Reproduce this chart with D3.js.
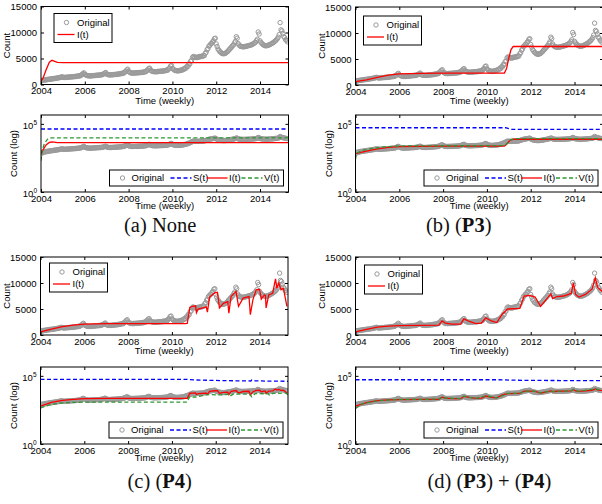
<!DOCTYPE html>
<meta charset="utf-8">
<head>
<script src="https://d3js.org/d3.v7.min.js"></script>
<style>
  body { margin: 0; background: #fff; }
  svg text { font-family: "Liberation Sans", Arial, sans-serif; }
</style>
</head>
<body>
<div id="my_dataviz"></div>
<script>

// ---------------- data ----------------
var yearTicks = [2004, 2006, 2008, 2010, 2012, 2014];
var countTicks = [0, 5000, 10000, 15000];
var logTicks = [1, 100000];
var timeDomain = [2004, 2015.3];
var countDomain = [0, 15000];
var logDomain = [1, Math.pow(10, 5.65)];

var origStart = 2004;
var original = [
  620, 780, 850, 800, 900, 870, 960, 930, 1010, 980, 1060, 1030, 1110, 1080, 1160, 1130, 1220, 1190, 1270, 1250, 1350, 1330, 1430, 1480,
  1400, 1350, 1380, 1340, 1420, 1380, 1440, 1400, 1480, 1440, 1500, 1460, 1540, 1500, 1580, 1550, 1640, 1600, 1700, 1660, 1820, 1900, 2100, 2250,
  1950, 1850, 1750, 1700, 1680, 1640, 1670, 1630, 1710, 1680, 1740, 1700, 1780, 1740, 1810, 1770, 1840, 1800, 1900, 1860, 2000, 2050, 2200, 2300,
  2000, 1920, 1880, 1840, 1870, 1830, 1900, 1860, 1940, 1900, 1970, 1930, 2020, 1980, 2080, 2040, 2140, 2100, 2240, 2200, 2450, 2550, 2800, 2950,
  2500, 2380, 2260, 2200, 2220, 2180, 2230, 2190, 2260, 2220, 2280, 2240, 2320, 2280, 2340, 2300, 2400, 2360, 2500, 2460, 2700, 2800, 3050, 3150,
  2750, 2620, 2540, 2480, 2480, 2440, 2480, 2440, 2520, 2480, 2560, 2520, 2580, 2540, 2640, 2600, 2700, 2660, 2800, 2760, 3050, 3150, 3550, 3650,
  3100, 2950, 2780, 2700, 2660, 2620, 2660, 2620, 2720, 2680, 2820, 2780, 2980, 2940, 3180, 3140, 3520, 3480, 3980, 3920, 4500, 4600, 5200, 5400,
  5300, 5200, 5250, 5150, 5300, 5250, 5400, 5350, 5450, 5400, 5600, 5550, 6000, 6200, 6700, 6900, 7400, 7500, 7800, 7900, 8200, 8400, 8800, 8900,
  7800, 7300, 6800, 6600, 6300, 6200, 6000, 5950, 5900, 5950, 6000, 6100, 6300, 6400, 6700, 6800, 7100, 7200, 7500, 7600, 8000, 8300, 9200, 8900,
  7900, 7600, 7400, 7350, 7300, 7250, 7250, 7300, 7300, 7350, 7400, 7450, 7500, 7550, 7600, 7650, 7800, 7850, 8000, 8100, 8400, 8700, 10100, 9700,
  8400, 8100, 7900, 7700, 7600, 7500, 7450, 7450, 7500, 7550, 7600, 7700, 7800, 7900, 8000, 8100, 8300, 8400, 8600, 8800, 9100, 9600, 11900, 10500,
  10300, 9800, 9200, 9000, 8600, 8500, 8200
];

// fitted curves, [year, value]
// (a) None
var noneI = [[2004,600],[2004.1,1300],[2004.23,2800],[2004.38,4300],[2004.5,4650],[2004.6,4500],[2004.75,4250],[2005,4200],[2015.3,4200]];
var noneS = [[2004,42000],[2015.3,42000]];
var noneV = [[2004,200],[2004.05,1000],[2004.15,3500],[2004.3,7500],[2004.45,9300],[2004.6,9500],[2015.3,9500]];

// (b) P3
var p3I = [[2004,650],[2004.5,1000],[2005,1450],[2005.5,1900],[2006,2150],[2007,2250],[2008,2300],[2010.8,2300],[2010.9,3200],[2011.0,5200],[2011.1,6800],[2011.2,7400],[2015.3,7400]];
var p3S = [[2004,52000],[2010.85,52000],[2011.1,40000],[2015.3,40000]];
var p3V = [[2004,250],[2004.05,700],[2004.3,1100],[2004.7,1500],[2005.2,1950],[2005.7,2250],[2006.5,2450],[2010.8,2500],[2010.95,4000],[2011.1,7000],[2011.3,8200],[2015.3,8300]];

// (c) P4
var p4I = [[2004,600],[2004.5,1150],[2005,1600],[2005.5,1900],[2006,2100],[2007,2200],[2010.6,2200],[2010.7,2250],[2010.82,5300],[2010.95,5500],[2011.08,5600],[2011.12,4300],[2011.2,5000],[2011.5,5300],[2011.57,5400],[2011.62,4400],[2011.72,7300],[2011.95,8100],[2012.08,8200],[2012.17,5200],[2012.35,6100],[2012.55,6400],[2012.6,4200],[2012.7,7400],[2012.93,8400],[2013.04,5500],[2013.25,7100],[2013.52,7400],[2013.58,3900],[2013.7,6800],[2013.85,8700],[2014.0,8800],[2014.08,6900],[2014.22,7700],[2014.27,7600],[2014.3,5200],[2014.42,7700],[2014.6,8000],[2014.73,10800],[2014.79,9000],[2014.88,10000],[2014.98,8700],[2015.09,9000],[2015.25,5500]];
var p4S = [[2004,55000],[2010.7,55000],[2011,50000],[2012,46000],[2013,43000],[2013.6,42000],[2013.65,50000],[2013.8,43000],[2014.5,41000],[2015.3,40000]];
var p4V = [[2004,450],[2004.5,800],[2005,1050],[2006,1200],[2010.7,1200],[2010.8,2800],[2011.1,2800],[2011.4,3600],[2011.7,4200],[2012.2,4000],[2012.6,4400],[2012.65,3300],[2012.8,4600],[2013.55,4600],[2013.65,2900],[2013.8,5000],[2014.4,4800],[2014.45,3800],[2014.6,5200],[2015.2,5400],[2015.3,4200]];

// (d) P3 + P4
var bothI = [[2004,600],[2004.5,1100],[2005,1500],[2005.5,1700],[2006,1800],[2007,1850],[2007.8,1900],[2007.95,2700],[2008.1,2300],[2008.4,2100],[2008.8,2100],[2008.95,3100],[2009.2,2600],[2009.5,2200],[2009.75,2300],[2009.95,3300],[2010.2,2700],[2010.45,2400],[2010.7,4000],[2010.95,5000],[2011.5,5100],[2011.7,7500],[2011.95,7600],[2012.2,7300],[2012.45,5500],[2012.7,6800],[2012.92,7900],[2013.0,7000],[2013.2,7400],[2013.5,7500],[2013.85,8000],[2013.95,10000],[2014.05,7800],[2014.2,7300],[2014.5,7800],[2014.8,8800],[2014.95,11000],[2015.05,9200],[2015.3,8200]];
var bothS = [[2004,52000],[2010.5,52000],[2011.2,48000],[2012.5,46000],[2015.3,44000]];
var bothV = [[2004,400],[2004.3,900],[2005,1500],[2006,1850],[2007.8,1950],[2007.95,2800],[2008.1,2350],[2008.8,2150],[2008.95,3200],[2009.2,2650],[2009.5,2250],[2009.95,3400],[2010.45,2450],[2010.95,5100],[2011.5,5200],[2011.7,7600],[2012.2,7400],[2012.45,5600],[2012.92,8000],[2013.0,7100],[2013.85,8100],[2013.95,10100],[2014.2,7400],[2014.95,11100],[2015.3,8300]];

var captionA = [["(a) None", false]];
var captionB = [["(b) (", false], ["P3", true], [")", false]];
var captionC = [["(c) (", false], ["P4", true], [")", false]];
var captionD = [["(d) (", false], ["P3", true], [") + (", false], ["P4", true], [")", false]];

// ---------------- layout ----------------
var plotW = 247.5, topH = 78, logH = 77;
var grey = "#9a9a9a", red = "#ff0000", blue = "#0000ff", green = "#2f962f";

var panels = [
  {left: 41, top: 6.5, logTop: 115, I: noneI, S: noneS, V: noneV, cap: captionA, capX: 124, capY: 232, leg: [13, 7]},
  {left: 355.5, top: 7, logTop: 115, I: p3I, S: p3S, V: p3V, cap: captionB, capX: 426, capY: 232, leg: [8, 9]},
  {left: 40.5, top: 257, logTop: 367, I: p4I, S: p4S, V: p4V, cap: captionC, capX: 127.5, capY: 487.5, leg: [9, 6]},
  {left: 355.5, top: 257, logTop: 367, I: bothI, S: bothS, V: bothV, cap: captionD, capX: 427.5, capY: 487.5, leg: [9, 8]}
];

var svg = d3.select("#my_dataviz")
  .append("svg")
    .attr("width", 602)
    .attr("height", 504);

var clipId = 0;

function frame(g, x, y, h, yTicks, logLabels) {
  g.append("g")
    .attr("transform", "translate(0," + h + ")")
    .call(d3.axisBottom(x).tickValues(yearTicks).tickFormat(d3.format("d"))
      .tickSizeInner(-3).tickSizeOuter(0).tickPadding(3));
  g.append("g")
    .call(d3.axisTop(x).tickValues(yearTicks).tickFormat("").tickSizeInner(-3).tickSizeOuter(0));
  var left = g.append("g")
    .call(d3.axisLeft(y).tickValues(yTicks).tickFormat(logLabels ? "" : d3.format("d"))
      .tickSizeInner(-3).tickSizeOuter(0).tickPadding(4));
  g.append("g")
    .attr("transform", "translate(" + plotW + ",0)")
    .call(d3.axisRight(y).tickValues(yTicks).tickFormat("").tickSizeInner(-3).tickSizeOuter(0));
  g.selectAll(".domain").remove();
  g.selectAll(".tick text")
    .attr("font-size", 9.5)
    .attr("font-family", "'Liberation Sans', Arial, sans-serif")
    .attr("fill", "#000");
  if (logLabels) {
    left.selectAll(".tick text").each(function(d) {
      var t = d3.select(this);
      t.attr("dy", "0.45em").text("10");
      t.append("tspan").attr("dy", "-0.55em").attr("font-size", 6.5)
        .text(Math.round(Math.log10(d)));
    });
  }
  g.append("rect")
    .attr("width", plotW).attr("height", h)
    .attr("fill", "none").attr("stroke", "#000").attr("stroke-width", 1);
}

function clipped(g, h) {
  clipId++;
  g.append("clipPath").attr("id", "clip" + clipId)
    .append("rect").attr("width", plotW).attr("height", h);
  return g.append("g").attr("clip-path", "url(#clip" + clipId + ")");
}

function drawOriginal(g, x, y) {
  g.append("g")
    .selectAll("circle")
    .data(original)
    .enter()
    .append("circle")
      .attr("cx", function(d, i) { return x(origStart + i / 24); })
      .attr("cy", function(d) { return y(d); })
      .attr("r", 2.2)
      .attr("fill", "none")
      .attr("stroke", grey)
      .attr("stroke-width", 1);
}

function drawCurve(g, x, y, data, color, dash) {
  var line = d3.line()
    .x(function(d) { return x(d[0]); })
    .y(function(d) { return y(d[1]); });
  g.append("path")
    .datum(data)
    .attr("d", line)
    .attr("fill", "none")
    .attr("stroke", color)
    .attr("stroke-width", 1.3)
    .attr("stroke-dasharray", dash ? "4,2.5" : null);
}

function legendText(g, x, y, s) {
  g.append("text").attr("x", x).attr("y", y).attr("dy", "0.35em")
    .style("font-size", "9.5px").text(s);
}

function drawTop(p) {
  var g = svg.append("g").attr("transform", "translate(" + p.left + "," + p.top + ")");
  var x = d3.scaleLinear().domain(timeDomain).range([0, plotW]);
  var y = d3.scaleLinear().domain(countDomain).range([topH, 0]);

  var c = clipped(g, topH);
  drawOriginal(c, x, y);
  drawCurve(c, x, y, p.I, red, false);
  frame(g, x, y, topH, countTicks, false);

  // legend
  var lg = g.append("g").attr("transform", "translate(" + p.leg[0] + "," + p.leg[1] + ")");
  lg.append("rect").attr("width", 58).attr("height", 29)
    .attr("fill", "#fff").attr("stroke", "#000").attr("stroke-width", 1);
  lg.append("circle").attr("cx", 12.5).attr("cy", 9).attr("r", 2.2)
    .attr("fill", "none").attr("stroke", grey).attr("stroke-width", 1);
  legendText(lg, 23, 9, "Original");
  lg.append("line").attr("x1", 3.5).attr("x2", 20.5).attr("y1", 21).attr("y2", 21)
    .attr("stroke", red).attr("stroke-width", 1.3);
  legendText(lg, 23, 21, "I(t)");

  // axis labels
  g.append("text")
    .attr("transform", "translate(-31," + (topH / 2) + ")rotate(-90)")
    .attr("text-anchor", "middle")
    .style("font-size", "9.5px")
    .text("Count");
  g.append("text")
    .attr("x", plotW / 2).attr("y", topH + 19)
    .attr("text-anchor", "middle")
    .style("font-size", "9.5px")
    .text("Time (weekly)");
}

function drawLog(p) {
  var g = svg.append("g").attr("transform", "translate(" + p.left + "," + p.logTop + ")");
  var x = d3.scaleLinear().domain(timeDomain).range([0, plotW]);
  var y = d3.scaleLog().domain(logDomain).range([logH, 0]);

  var c = clipped(g, logH);
  drawOriginal(c, x, y);
  drawCurve(c, x, y, p.S, blue, true);
  drawCurve(c, x, y, p.I, red, false);
  drawCurve(c, x, y, p.V, green, true);
  frame(g, x, y, logH, logTicks, true);

  // legend, one row
  var lw = 174, lh = 16;
  var lg = g.append("g").attr("transform", "translate(" + (plotW - 5 - lw) + "," + (logH - 6 - lh) + ")");
  lg.append("rect").attr("width", lw).attr("height", lh)
    .attr("fill", "#fff").attr("stroke", "#000").attr("stroke-width", 1);
  var cy = lh / 2;
  lg.append("circle").attr("cx", 13).attr("cy", cy).attr("r", 2.2)
    .attr("fill", "none").attr("stroke", grey).attr("stroke-width", 1);
  legendText(lg, 22, cy, "Original");
  var items = [[61, blue, true, "S(t)"], [97, red, false, "I(t)"], [132, green, true, "V(t)"]];
  items.forEach(function(it) {
    lg.append("line").attr("x1", it[0]).attr("x2", it[0] + 21).attr("y1", cy).attr("y2", cy)
      .attr("stroke", it[1]).attr("stroke-width", 1.3)
      .attr("stroke-dasharray", it[2] ? "4,2.5" : null);
    legendText(lg, it[0] + 22.5, cy, it[3]);
  });

  g.append("text")
    .attr("transform", "translate(-24," + (logH / 2) + ")rotate(-90)")
    .attr("text-anchor", "middle")
    .style("font-size", "9.5px")
    .text("Count (log)");
  g.append("text")
    .attr("x", plotW / 2).attr("y", logH + 16.5)
    .attr("text-anchor", "middle")
    .style("font-size", "9.5px")
    .text("Time (weekly)");
}

function drawCaption(p) {
  var t = svg.append("text")
    .attr("x", p.capX).attr("y", p.capY)
    .style("font-family", "'Liberation Serif', 'Times New Roman', serif")
    .style("font-size", "20.5px")
    .attr("fill", "#111");
  p.cap.forEach(function(part) {
    t.append("tspan")
      .style("font-family", "'Liberation Serif', 'Times New Roman', serif")
      .style("font-weight", part[1] ? "bold" : "normal")
      .attr("xml:space", "preserve")
      .text(part[0]);
  });
}

panels.forEach(function(p) {
  drawTop(p);
  drawLog(p);
  drawCaption(p);
});

</script>
</body>
</html>
